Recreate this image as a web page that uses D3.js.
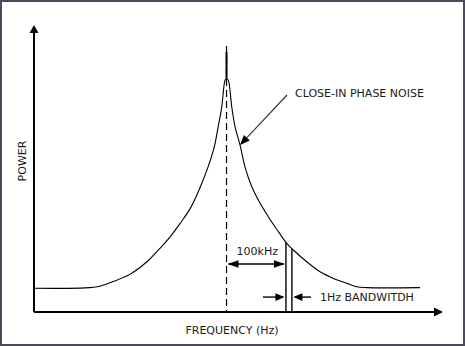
<!DOCTYPE html>
<html>
<head>
<meta charset="utf-8">
<script src="https://cdn.jsdelivr.net/npm/d3@7"></script>
<style>
  html, body { margin: 0; padding: 0; background: #fff; }
  svg { display: block; }
  text { font-family: "DejaVu Sans", Verdana, sans-serif; fill: #1a1a1a; }
</style>
</head>
<body>
<script>
// Spectrum of an oscillator: carrier with close-in phase-noise skirts
// (frequency offset from the carrier in kHz, power in relative units 0–100)
const leftOffset  = [-324, -238, -213, -191, -162, -134, -112, -95, -78, -61, -45, -22, -14, -8, -2.5, 0];
const leftPower   = [8.3, 8.4, 9.0, 10.6, 13.2, 17.5, 22.2, 26.2, 30.9, 36.1, 43.1, 56.4, 64.6, 71.5, 80.8, 81.5];
const rightOffset = [0, 3, 8.8, 14.3, 22.7, 31.1, 42.4, 53.5, 70.3, 87.2, 101.3, 112.4, 135, 157.4, 179.7, 202.3, 219.1, 236, 325.6];
const rightPower  = [81.5, 80.8, 71.5, 64.6, 58.2, 50.6, 43.7, 39.0, 33.2, 28.0, 23.9, 21.6, 17.5, 14.0, 11.7, 10.0, 8.8, 8.5, 8.5];
const carrierPower = 90.5;     // top of the carrier spike
const markerTop = 92.7;        // top of the dashed carrier marker
const offsetMarker = 100;      // kHz, "100kHz"
const bandEdges = [100, 110];  // measurement bandwidth edges (drawn widened)
const labels = {
  x: "FREQUENCY (Hz)",
  y: "POWER",
  noise: "CLOSE-IN PHASE NOISE",
  offset: "100kHz",
  band: "1Hz BANDWITDH"
};

const W = 465, H = 346;
const svg = d3.select("body").append("svg").attr("width", W).attr("height", H);

const x = d3.scaleLinear().domain([-324, 366]).range([34, 444]);
const y = d3.scaleLinear().domain([0, 100]).range([312, 25]);

// frame
svg.append("rect").attr("x", 1).attr("y", 1).attr("width", W - 2).attr("height", H - 2)
  .attr("fill", "#fff").attr("stroke", "#4a4a5c").attr("stroke-width", 2);

// filled arrowhead with tip at (tx,ty) pointing along angle (radians)
function head(tx, ty, ang, len, half, fill) {
  const bx = tx - Math.cos(ang) * len, by = ty - Math.sin(ang) * len;
  const px = -Math.sin(ang) * half, py = Math.cos(ang) * half;
  svg.append("path")
    .attr("d", `M${tx},${ty}L${bx + px},${by + py}L${bx - px},${by - py}Z`)
    .attr("fill", fill || "#000");
}

// axes
const x0 = x(-324), yBase = y(0);
svg.append("line").attr("x1", x0).attr("y1", yBase).attr("x2", x0).attr("y2", y(100) + 4)
  .attr("stroke", "#000").attr("stroke-width", 2);
head(x0, y(100), -Math.PI / 2, 8, 4.5);
svg.append("line").attr("x1", x0).attr("y1", yBase).attr("x2", x(366) - 6).attr("y2", yBase)
  .attr("stroke", "#000").attr("stroke-width", 2);
head(x(366) - 1, yBase, 0, 9, 4.5);

// dashed carrier marker
svg.append("line").attr("x1", x(0)).attr("x2", x(0)).attr("y1", y(markerTop)).attr("y2", yBase)
  .attr("stroke", "#000").attr("stroke-width", 1.2).attr("stroke-dasharray", "7,4");

// noise skirts
const line = d3.line().x(d => x(d[0])).y(d => y(d[1])).curve(d3.curveCatmullRom.alpha(0.5));
const leftPts = leftOffset.map((o, i) => [o, leftPower[i]]);
const rightPts = rightOffset.map((o, i) => [o, rightPower[i]]);
[leftPts, rightPts].forEach(pts => {
  svg.append("path").attr("d", line(pts)).attr("fill", "none")
    .attr("stroke", "#000").attr("stroke-width", 1.1);
});
// carrier spike
svg.append("line").attr("x1", x(0)).attr("x2", x(0)).attr("y1", y(81.5)).attr("y2", y(carrierPower))
  .attr("stroke", "#000").attr("stroke-width", 2);

// power level on the right skirt at a given offset
const powerAt = o => {
  const i = d3.bisector(d => d[0]).right(rightPts, o);
  const a = rightPts[i - 1], b = rightPts[i];
  return a[1] + (b[1] - a[1]) * (o - a[0]) / (b[0] - a[0]);
};

// bandwidth edges
bandEdges.forEach(o => {
  svg.append("line").attr("x1", x(o)).attr("x2", x(o)).attr("y1", y(powerAt(o))).attr("y2", yBase)
    .attr("stroke", "#000").attr("stroke-width", 1.4);
});

// 100 kHz offset dimension
const yOff = y(16.7);
svg.append("line").attr("x1", x(0) + 2).attr("x2", x(offsetMarker) - 2).attr("y1", yOff).attr("y2", yOff)
  .attr("stroke", "#000").attr("stroke-width", 1.4);
head(x(0) + 1, yOff, Math.PI, 11, 3.8);
head(x(offsetMarker) - 1, yOff, 0, 11, 3.8);
svg.append("text").attr("x", (x(0) + x(offsetMarker)) / 2 + 1).attr("y", 255)
  .attr("text-anchor", "middle").attr("font-size", 11).text(labels.offset);

// 1 Hz bandwidth pointers
const yBand = y(5.2);
svg.append("line").attr("x1", x(bandEdges[0]) - 23).attr("x2", x(bandEdges[0]) - 3).attr("y1", yBand).attr("y2", yBand)
  .attr("stroke", "#000").attr("stroke-width", 1.4);
head(x(bandEdges[0]) - 1.5, yBand, 0, 9, 3.8);
svg.append("line").attr("x1", x(bandEdges[1]) + 3).attr("x2", x(bandEdges[1]) + 19).attr("y1", yBand).attr("y2", yBand)
  .attr("stroke", "#000").attr("stroke-width", 1.4);
head(x(bandEdges[1]) + 1.5, yBand, Math.PI, 9, 3.8);
svg.append("text").attr("x", 320).attr("y", 301).attr("font-size", 11).text(labels.band);

// phase-noise callout
const tip = [x(22.7), y(58.2)], tail = [287, 95];
const ang = Math.atan2(tip[1] - tail[1], tip[0] - tail[0]);
svg.append("line").attr("x1", tail[0]).attr("y1", tail[1])
  .attr("x2", tip[0] - Math.cos(ang) * 6).attr("y2", tip[1] - Math.sin(ang) * 6)
  .attr("stroke", "#333").attr("stroke-width", 1.1);
head(tip[0], tip[1], ang, 10, 4);
svg.append("text").attr("x", 295).attr("y", 97).attr("font-size", 11).text(labels.noise);

// axis titles
svg.append("text").attr("x", 232).attr("y", 334).attr("text-anchor", "middle")
  .attr("font-size", 11).text(labels.x);
svg.append("text").attr("transform", "translate(26,161) rotate(-90)").attr("text-anchor", "middle")
  .attr("font-size", 11).text(labels.y);
</script>
</body>
</html>
